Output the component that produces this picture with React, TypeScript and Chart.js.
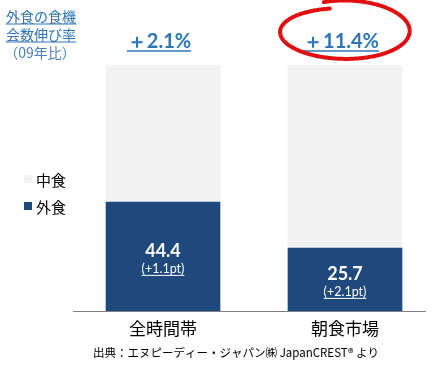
import React, { useEffect, useRef } from "react";
import { Chart, registerables } from "chart.js";

Chart.register(...registerables);

const categories = ["全時間帯", "朝食市場"];
const gaishoku = [44.4, 25.7];
const nakashoku = [55.6, 74.3];
const growthLabels = ["＋2.1%", "＋11.4%"];
const ptLabels = ["(+1.1pt)", "(+2.1pt)"];
const seriesNames = ["外食", "中食"];

const BLUE = "#1F497D";
const GRAY = "#F2F2F2";
const TEXT_BLUE = "#2E75B6";
const JP = '"Noto Sans CJK JP", sans-serif';
const NUM = 'Lato, "Open Sans", sans-serif';

function underlineText(ctx: CanvasRenderingContext2D, text: string, x: number, y: number, color: string, offset: number, lw: number) {
  ctx.fillStyle = color;
  ctx.textAlign = "center";
  ctx.textBaseline = "alphabetic";
  ctx.fillText(text, x, y);
  const w = ctx.measureText(text).width;
  ctx.strokeStyle = color;
  ctx.lineWidth = lw;
  ctx.beginPath();
  ctx.moveTo(x - w / 2, y + offset);
  ctx.lineTo(x + w / 2, y + offset);
  ctx.stroke();
}

const overlay = {
  id: "overlay",
  afterDatasetsDraw(chart: any) {
    const ctx: CanvasRenderingContext2D = chart.ctx;
    const meta = chart.getDatasetMeta(0);
    const metaTop = chart.getDatasetMeta(1);
    ctx.save();

    // axis line
    ctx.strokeStyle = "#808080";
    ctx.lineWidth = 1;
    ctx.beginPath();
    ctx.moveTo(73, chart.chartArea.bottom + 0.5);
    ctx.lineTo(426, chart.chartArea.bottom + 0.5);
    ctx.stroke();

    meta.data.forEach((bar: any, i: number) => {
      const cx = bar.x;
      const mid = (bar.y + bar.base) / 2;
      ctx.font = `bold 18px ${NUM}`;
      ctx.fillStyle = "#FFFFFF";
      ctx.textAlign = "center";
      ctx.textBaseline = "alphabetic";
      ctx.fillText(gaishoku[i].toFixed(1), cx, mid + 1);
      ctx.font = `12.5px ${NUM}`;
      underlineText(ctx, ptLabels[i], cx, mid + 17, "#FFFFFF", 2, 1);

      const topY = metaTop.data[i].y;
      ctx.font = `bold 20px ${NUM}`;
      underlineText(ctx, growthLabels[i], cx - 4, topY - 17, TEXT_BLUE, 3, 1.5);
    });

    // red hand-drawn circle around second label
    const c = meta.data[1];
    const ex = c.x - 1;
    const ey = 31;
    ctx.strokeStyle = "#E01010";
    ctx.lineWidth = 4;
    ctx.lineCap = "round";
    ctx.beginPath();
    const start = -Math.PI * 0.62;
    const end = start + Math.PI * 2.05;
    for (let t = start; t <= end; t += 0.02) {
      const k = (t - start) / (end - start);
      const rx = 63 + 2 * k;
      const ry = 30 - 5 * k;
      const px = ex + rx * Math.cos(t) + 3 * (1 - k);
      const py = ey + ry * Math.sin(t) - 3 * (1 - k) + 2;
      if (t === start) ctx.moveTo(px, py);
      else ctx.lineTo(px, py);
    }
    ctx.stroke();

    // left title
    ctx.font = `14px ${JP}`;
    underlineText(ctx, "外食の食機", 41, 22, TEXT_BLUE, 2, 1);
    underlineText(ctx, "会数伸び率", 41, 40, TEXT_BLUE, 2, 1);
    ctx.fillStyle = "#4F81BD";
    ctx.fillText("（09年比）", 40, 58);

    // legend
    const legend = [
      { name: seriesNames[1], color: GRAY, y: 179 },
      { name: seriesNames[0], color: BLUE, y: 206 },
    ];
    legend.forEach((l) => {
      ctx.fillStyle = l.color;
      ctx.fillRect(24, l.y - 4, 8, 8);
      ctx.fillStyle = "#000000";
      ctx.font = `15px ${JP}`;
      ctx.textAlign = "left";
      ctx.textBaseline = "middle";
      ctx.fillText(l.name, 36, l.y + 1);
    });

    // source
    ctx.font = `11.5px ${JP}`;
    ctx.fillStyle = "#000000";
    ctx.textAlign = "center";
    ctx.textBaseline = "middle";
    ctx.fillText("出典：エヌピーディー・ジャパン㈱ JapanCREST® より", 236, 353);

    ctx.restore();
  },
};

export default function App() {
  const ref = useRef<HTMLCanvasElement | null>(null);
  useEffect(() => {
    document.body.style.margin = "0";
    const chart = new Chart(ref.current as HTMLCanvasElement, {
      type: "bar",
      data: {
        labels: categories,
        datasets: [
          { label: seriesNames[0], data: gaishoku, backgroundColor: BLUE, borderWidth: 0 },
          { label: seriesNames[1], data: nakashoku, backgroundColor: GRAY, borderWidth: 0 },
        ],
      },
      options: {
        animation: false,
        responsive: false,
        devicePixelRatio: 1,
        layout: { padding: { left: 72, right: 12, top: 65, bottom: 0 } },
        plugins: { legend: { display: false }, tooltip: { enabled: false } },
        datasets: { bar: { barPercentage: 0.9, categoryPercentage: 0.7 } },
        scales: {
          x: {
            stacked: true,
            grid: { display: false, drawTicks: false },
            border: { display: false },
            ticks: { color: "#000000", font: { family: JP, size: 17 }, padding: 7 },
            afterFit: (scale: any) => {
              scale.height = 62;
            },
          },
          y: { stacked: true, display: false, min: 0, max: 100 },
        },
      },
      plugins: [overlay],
    });
    return () => chart.destroy();
  }, []);
  return (
    <div style={{ width: 448, height: 373, background: "#fff" }}>
      <canvas ref={ref} width={448} height={373} />
    </div>
  );
}
